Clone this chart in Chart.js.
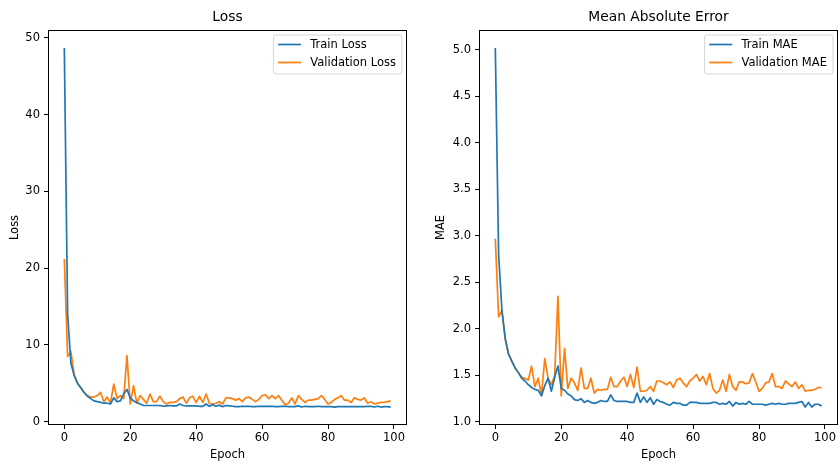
<!DOCTYPE html>
<html><head><meta charset="utf-8">
<script src="https://cdn.jsdelivr.net/npm/chart.js@4.4.1/dist/chart.umd.min.js"></script>
<style>
html,body{margin:0;padding:0;background:#fff;overflow:hidden}
#wrap{position:relative;width:839px;height:466px;background:#fff}
.box{position:absolute;top:0;height:466px}
</style></head><body>
<div id="wrap">
<div class="box" style="left:0;width:420px"><canvas id="c1"></canvas></div>
<div class="box" style="left:420px;width:419px"><canvas id="c2"></canvas></div>
</div>
<script>
// ---- data ----
const epochs = Array.from({length: 100}, (_, i) => i);
const xTicks = [0, 20, 40, 60, 80, 100];

const trainLoss = [48.7,14.0,7.6,6.0,5.0,4.4,3.8,3.3,3.0,2.7,2.6,2.5,2.4,2.4,2.3,3.1,2.6,2.7,3.6,4.2,
  3.1,2.7,2.5,2.3,2.1,2.1,2.1,2.1,2.1,2.1,2.0,2.05,2.1,2.05,2.05,2.3,2.1,2.05,2.05,2.05,
  2.05,2.0,2.0,2.3,2.0,2.2,2.0,2.15,1.95,2.1,2.05,2.0,1.95,1.95,2.0,2.0,2.0,1.95,1.95,2.0,
  2.0,2.0,2.0,2.0,1.95,1.95,2.0,2.0,1.95,1.95,1.95,2.05,1.9,2.0,1.95,1.95,1.95,2.0,1.95,1.95,
  1.95,1.95,1.9,1.95,1.95,1.95,1.95,1.95,1.95,1.95,1.95,1.95,2.0,2.0,1.9,2.0,1.9,1.95,1.95,1.9];
const valLoss = [21.2,8.5,9.1,6.1,5.0,4.4,3.8,3.4,3.2,3.2,3.4,3.8,2.6,3.2,2.4,4.9,3.0,3.4,3.0,8.6,
  2.3,4.7,2.4,3.4,2.9,2.4,3.6,2.6,2.6,3.3,2.6,2.3,2.5,2.5,2.6,3.0,3.2,2.4,3.1,3.3,
  2.5,3.3,2.5,3.6,2.4,2.3,2.4,2.6,2.3,3.1,3.1,3.0,2.8,3.0,2.6,3.1,3.2,2.9,2.6,2.9,
  3.4,3.5,3.0,3.4,3.0,3.4,2.8,2.2,2.4,3.1,2.3,3.4,2.9,2.5,2.8,2.8,2.9,3.0,3.4,2.9,
  2.3,2.5,2.9,3.1,3.4,2.8,2.8,2.5,3.1,2.9,2.8,3.1,2.4,2.6,2.3,2.4,2.5,2.5,2.6,2.7];
const trainMAE = [5.02,2.80,2.20,1.90,1.73,1.65,1.58,1.53,1.47,1.44,1.40,1.37,1.35,1.34,1.28,1.39,1.47,1.33,1.48,1.60,
  1.36,1.34,1.30,1.28,1.24,1.23,1.25,1.21,1.23,1.21,1.20,1.21,1.23,1.22,1.22,1.29,1.23,1.22,1.22,1.22,
  1.22,1.21,1.21,1.31,1.21,1.27,1.21,1.26,1.19,1.24,1.22,1.21,1.19,1.18,1.21,1.20,1.20,1.18,1.18,1.21,
  1.21,1.21,1.20,1.20,1.20,1.20,1.21,1.21,1.19,1.20,1.19,1.22,1.17,1.21,1.19,1.20,1.19,1.22,1.19,1.19,
  1.19,1.19,1.18,1.19,1.20,1.19,1.20,1.19,1.19,1.20,1.20,1.20,1.21,1.22,1.16,1.21,1.16,1.19,1.19,1.17];
const valMAE = [2.97,2.13,2.20,1.89,1.73,1.66,1.58,1.53,1.48,1.47,1.45,1.60,1.38,1.47,1.29,1.68,1.47,1.40,1.50,2.35,
  1.28,1.79,1.36,1.47,1.42,1.34,1.58,1.36,1.36,1.47,1.31,1.35,1.34,1.35,1.35,1.48,1.38,1.38,1.44,1.48,
  1.38,1.51,1.37,1.59,1.33,1.33,1.34,1.38,1.33,1.44,1.44,1.42,1.40,1.43,1.37,1.45,1.47,1.42,1.38,1.44,
  1.47,1.51,1.44,1.49,1.40,1.52,1.36,1.31,1.34,1.45,1.33,1.51,1.38,1.34,1.43,1.43,1.41,1.42,1.52,1.43,
  1.33,1.36,1.42,1.43,1.52,1.38,1.38,1.36,1.44,1.41,1.38,1.43,1.36,1.40,1.33,1.34,1.34,1.35,1.37,1.37];

const lossTicks = [0, 10, 20, 30, 40, 50];
const lossTickLabels = ['0', '10', '20', '30', '40', '50'];
const maeTicks = [1.0, 1.5, 2.0, 2.5, 3.0, 3.5, 4.0, 4.5, 5.0];
const maeTickLabels = ['1.0', '1.5', '2.0', '2.5', '3.0', '3.5', '4.0', '4.5', '5.0'];

// ---- styling ----
const FONT = 'DejaVu Sans';
const FS = 11.5;
const BLUE = '#1f77b4', ORANGE = '#ff7f0e';
Chart.defaults.font.family = FONT;
Chart.defaults.font.size = FS;
Chart.defaults.color = '#000';

const frameLegend = {
  id: 'frameLegend',
  afterDraw(chart, args, opts) {
    const {ctx, chartArea: a} = chart;
    ctx.save();
    // title centred over the plot area
    ctx.fillStyle = '#000';
    ctx.font = '13.8px "' + FONT + '"';
    ctx.textAlign = 'center';
    ctx.textBaseline = 'middle';
    ctx.fillText(opts.title, (a.left + a.right) / 2, 17);
    // frame (spines)
    ctx.strokeStyle = '#000';
    ctx.lineWidth = 1;
    const l = Math.round(a.left) + 0.5, t = Math.round(a.top) + 0.5;
    const r = Math.round(a.right) - 0.5, b = Math.round(a.bottom) - 0.5;
    ctx.strokeRect(l, t, r - l, b - t);
    // legend
    const em = FS;
    ctx.font = FS + 'px "' + FONT + '"';
    const ds = chart.data.datasets;
    let tw = 0;
    ds.forEach(d => { tw = Math.max(tw, ctx.measureText(d.label).width); });
    const pad = 0.4 * em, handle = 2 * em, tpad = 0.8 * em;
    const w = pad + handle + tpad + tw + pad + 1.5;
    const h = 39;
    const bx = a.right - 5 - w, by = a.top + 5;
    ctx.beginPath();
    const rr = 2.5;
    ctx.moveTo(bx + rr, by);
    ctx.lineTo(bx + w - rr, by); ctx.quadraticCurveTo(bx + w, by, bx + w, by + rr);
    ctx.lineTo(bx + w, by + h - rr); ctx.quadraticCurveTo(bx + w, by + h, bx + w - rr, by + h);
    ctx.lineTo(bx + rr, by + h); ctx.quadraticCurveTo(bx, by + h, bx, by + h - rr);
    ctx.lineTo(bx, by + rr); ctx.quadraticCurveTo(bx, by, bx + rr, by);
    ctx.closePath();
    ctx.fillStyle = 'rgba(255,255,255,0.8)';
    ctx.fill();
    ctx.strokeStyle = '#d5d5d5';
    ctx.lineWidth = 1;
    ctx.stroke();
    ds.forEach((d, i) => {
      const y = by + 9.5 + i * 18;
      ctx.strokeStyle = d.borderColor;
      ctx.lineWidth = 1.7;
      ctx.beginPath();
      ctx.moveTo(bx + pad, y);
      ctx.lineTo(bx + pad + handle, y);
      ctx.stroke();
      ctx.fillStyle = '#000';
      ctx.textBaseline = 'middle';
      ctx.textAlign = 'left';
      ctx.fillText(d.label, bx + pad + handle + tpad, y + 0.5);
    });
    ctx.restore();
  }
};

function makeChart(id, o) {
  return new Chart(document.getElementById(id), {
    type: 'line',
    data: {
      datasets: [
        {label: o.labels[0], data: epochs.map((e, i) => ({x: e, y: o.series[0][i]})),
         borderColor: BLUE, backgroundColor: BLUE, borderWidth: 1.7, pointRadius: 0, tension: 0, borderJoinStyle: 'round'},
        {label: o.labels[1], data: epochs.map((e, i) => ({x: e, y: o.series[1][i]})),
         borderColor: ORANGE, backgroundColor: ORANGE, borderWidth: 1.7, pointRadius: 0, tension: 0, borderJoinStyle: 'round'}
      ]
    },
    options: {
      responsive: true,
      maintainAspectRatio: false,
      animation: false,
      devicePixelRatio: 1,
      layout: {padding: {left: 0, right: o.padRight, top: 30, bottom: 0}},
      plugins: {
        legend: {display: false},
        tooltip: {enabled: false},
        title: {display: false},
        frameLegend: {title: o.title}
      },
      scales: {
        x: {
          type: 'linear', min: -4.95, max: 103.95,
          afterBuildTicks: ax => { ax.ticks = xTicks.map(v => ({value: v})); },
          afterFit: ax => { ax.height = 41; },
          ticks: {autoSkip: false, maxRotation: 0, padding: 2, color: '#000', font: {size: FS},
            callback: v => String(v)},
          grid: {display: true, drawOnChartArea: false, drawTicks: true, tickLength: 4, color: '#000', lineWidth: 1},
          border: {display: false},
          title: {display: true, text: 'Epoch', color: '#000', font: {size: FS}, padding: {top: 0, bottom: 4}}
        },
        y: {
          type: 'linear', min: o.yMin, max: o.yMax,
          afterBuildTicks: ax => { ax.ticks = o.yTicks.map(v => ({value: v})); },
          afterFit: ax => { ax.width = o.yWidth; },
          ticks: {autoSkip: false, padding: 4, color: '#000', font: {size: FS},
            callback: v => { const k = o.yTicks.indexOf(v); return k >= 0 ? o.yTickLabels[k] : ''; }},
          grid: {display: true, drawOnChartArea: false, drawTicks: true, tickLength: 4, color: '#000', lineWidth: 1},
          border: {display: false},
          title: {display: true, text: o.yTitle, color: '#000', font: {size: FS}, padding: {top: o.yTitlePad, bottom: 0}}
        }
      }
    },
    plugins: [frameLegend]
  });
}

makeChart('c1', {
  title: 'Loss', yTitle: 'Loss', labels: ['Train Loss', 'Validation Loss'],
  series: [trainLoss, valLoss], yMin: -0.44, yMax: 51.04,
  yTicks: lossTicks, yTickLabels: lossTickLabels, yWidth: 48, yTitlePad: 8, padRight: 13
});
makeChart('c2', {
  title: 'Mean Absolute Error', yTitle: 'MAE', labels: ['Train MAE', 'Validation MAE'],
  series: [trainMAE, valMAE], yMin: 0.967, yMax: 5.213,
  yTicks: maeTicks, yTickLabels: maeTickLabels, yWidth: 59, yTitlePad: 14, padRight: 1
});
</script>
</body></html>
